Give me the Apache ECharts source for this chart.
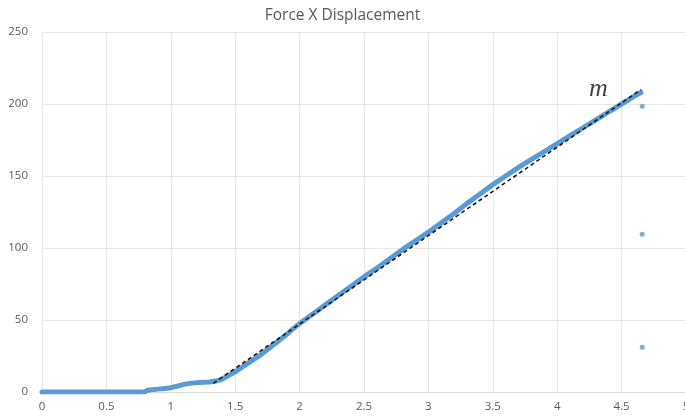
<!DOCTYPE html>
<html>
<head>
<meta charset="utf-8">
<script src="https://cdn.jsdelivr.net/npm/echarts@6/dist/echarts.min.js"></script>
<style>
  html, body { margin: 0; padding: 0; background: #fff; overflow: hidden; }
  #chart { width: 685px; height: 420px; }
</style>
</head>
<body>
<div id="chart"></div>
<script>
// Measured displacement (mm) and force (kN) samples
const displacement = [
  0.00, 0.05, 0.10, 0.15, 0.20, 0.25, 0.30, 0.35, 0.40, 0.45,
  0.50, 0.55, 0.60, 0.65, 0.70, 0.75, 0.80, 0.82, 0.85, 0.90,
  0.95, 1.00, 1.05, 1.10, 1.15, 1.20, 1.25, 1.30, 1.35, 1.40,
  1.45, 1.50, 1.55, 1.60, 1.65, 1.70, 1.75, 1.80, 1.85, 1.90,
  1.95, 2.00, 2.10, 2.20, 2.30, 2.40, 2.50, 2.60, 2.70, 2.80,
  2.90, 3.00, 3.10, 3.20, 3.30, 3.40, 3.50, 3.60, 3.70, 3.80,
  3.90, 4.00, 4.10, 4.20, 4.30, 4.40, 4.50, 4.60, 4.65
];
const force = [
  0.0, 0.0, 0.0, 0.0, 0.0, 0.0, 0.0, 0.0, 0.0, 0.0,
  0.0, 0.0, 0.0, 0.0, 0.0, 0.0, 0.2, 1.2, 1.6, 2.0,
  2.5, 3.0, 4.0, 5.3, 6.0, 6.5, 6.8, 7.0, 7.6, 9.0,
  11.5, 14.0, 17.0, 20.0, 23.0, 26.0, 29.5, 33.0, 36.5, 40.0,
  44.0, 47.5, 54.0, 60.5, 67.0, 73.5, 80.0, 86.0, 92.5, 99.0,
  105.0, 111.0, 117.5, 124.0, 131.0, 137.5, 144.0, 150.0, 156.0, 161.5,
  167.0, 172.5, 178.0, 183.5, 189.0, 194.5, 200.0, 205.5, 208.0
];
// Unloading readings at the end of the test
const dropX = [4.66, 4.66, 4.66];
const dropY = [198.5, 109.5, 31.0];
// Fitted stiffness line (slope m)
const fitX = [1.33, 4.65];
const fitY = [6.0, 210.0];
const slopeLabelPos = [4.32, 210];
const slopeLabel = 'm';
const xTicks = [0, 0.5, 1, 1.5, 2, 2.5, 3, 3.5, 4, 4.5, 5];
const yTicks = [0, 50, 100, 150, 200, 250];

const zip = (xs, ys) => xs.map((x, i) => [x, ys[i]]);
const blue = '#5b9bd5';
const textColor = '#595959';
const gridColor = '#e6e6e6';

const chart = echarts.init(document.getElementById('chart'), null, { renderer: 'canvas' });
chart.setOption({
  animation: false,
  backgroundColor: '#ffffff',
  title: {
    text: 'Force X Displacement',
    left: 'center',
    top: 3,
    textStyle: { fontFamily: 'Open Sans', fontSize: 15.5, fontWeight: 'normal', color: textColor }
  },
  // plot area runs slightly past the right edge, so the last tick label is clipped
  grid: { left: 42, width: 644, top: 32, height: 360, containLabel: false, outerBoundsMode: 'none' },
  xAxis: {
    type: 'value',
    min: xTicks[0],
    max: xTicks[xTicks.length - 1],
    interval: xTicks[1] - xTicks[0],
    axisLine: { show: true, lineStyle: { color: '#d9d9d9', width: 1 } },
    axisTick: { show: false },
    splitLine: { show: true, lineStyle: { color: gridColor, width: 1 } },
    axisLabel: { color: textColor, fontFamily: 'Open Sans', fontSize: 11.5, margin: 9, showMaxLabel: true }
  },
  yAxis: {
    type: 'value',
    min: yTicks[0],
    max: yTicks[yTicks.length - 1],
    interval: yTicks[1] - yTicks[0],
    axisLine: { show: false },
    axisTick: { show: false },
    splitLine: { show: true, lineStyle: { color: gridColor, width: 1 } },
    axisLabel: { color: textColor, fontFamily: 'Open Sans', fontSize: 11.5, margin: 14 }
  },
  series: [
    {
      name: 'Force',
      type: 'line',
      data: zip(displacement, force),
      showSymbol: false,
      smooth: false,
      lineStyle: { color: blue, width: 5, cap: 'round', join: 'round' },
      z: 2
    },
    {
      name: 'Unloading',
      type: 'scatter',
      data: zip(dropX, dropY),
      symbolSize: 5,
      itemStyle: { color: blue },
      z: 2
    },
    {
      name: 'Fit',
      type: 'line',
      data: zip(fitX, fitY),
      showSymbol: false,
      lineStyle: { color: '#1a1a1a', width: 1.6, type: [4, 3] },
      z: 3
    },
    {
      name: 'Slope',
      type: 'scatter',
      data: [slopeLabelPos],
      symbolSize: 0,
      label: {
        show: true,
        position: 'inside',
        formatter: slopeLabel,
        fontFamily: 'Liberation Serif',
        fontStyle: 'italic',
        fontSize: 26,
        color: '#111'
      },
      z: 4
    }
  ]
});
</script>
</body>
</html>
